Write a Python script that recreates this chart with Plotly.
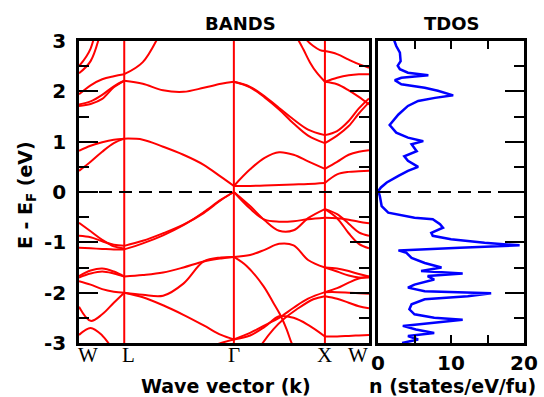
import plotly.graph_objects as go

# ---------------- data ----------------
k_sym = [0.0, 0.156, 0.534, 0.848, 1.0]
k_labels = ["W", "L", "Γ", "X", "W"]
e_ticks = [-3, -2, -1, 0, 1, 2, 3]
e_tick_labels = ["-3", "-2", "-1", "0", "1", "2", "3"]
n_ticks = [0, 10, 20]
n_tick_labels = ["0", "10", "20"]

# W -> L
k_WL = [0.0, 0.04, 0.08, 0.12, 0.156]
E_WL = [
    [0.42, 0.60, 0.80, 0.97, 1.06],
    [0.82, 0.92, 0.99, 1.04, 1.06],
    [1.71, 1.75, 1.85, 2.08, 2.21],
    [1.74, 1.80, 1.93, 2.10, 2.21],
    [1.94, 2.12, 2.24, 2.30, 2.34],
    [2.36, 2.60, 3.30, 4.50, 5.50],
    [2.50, 2.85, 3.90, 5.20, 6.00],
    [-0.61, -0.78, -0.95, -1.08, -1.12],
    [-0.87, -0.90, -0.98, -1.05, -1.07],
    [-1.11, -1.12, -1.13, -1.14, -1.14],
    [-1.67, -1.56, -1.52, -1.58, -1.68],
    [-1.70, -1.62, -1.58, -1.62, -1.68],
    [-1.77, -1.84, -1.93, -1.98, -2.00],
    [-2.28, -2.56, -2.43, -2.20, -2.00],
    [-2.84, -2.70, -2.85, -3.15, -3.40],
]

# L -> Gamma
k_LG = [0.156, 0.22, 0.29, 0.36, 0.43, 0.49, 0.534]
E_LG = [
    [1.06, 1.04, 0.90, 0.74, 0.54, 0.30, 0.12],
    [2.21, 2.15, 2.02, 1.99, 2.07, 2.15, 2.19],
    [2.34, 2.58, 3.25, 3.90, 4.50, 5.00, 5.40],
    [-1.07, -0.97, -0.82, -0.65, -0.42, -0.16, 0.00],
    [-1.14, -1.02, -0.86, -0.66, -0.40, -0.15, 0.00],
    [-1.68, -1.65, -1.60, -1.50, -1.38, -1.32, -1.29],
    [-2.00, -2.04, -2.06, -1.82, -1.38, -1.30, -1.29],
    [-2.00, -2.09, -2.25, -2.44, -2.65, -2.84, -2.93],
]

# Gamma -> X
k_GX = [0.534, 0.59, 0.64, 0.69, 0.74, 0.79, 0.848]
E_GX = [
    [0.12, 0.45, 0.68, 0.79, 0.74, 0.61, 0.46],
    [0.12, 0.12, 0.13, 0.14, 0.15, 0.16, 0.18],
    [2.19, 2.09, 1.90, 1.67, 1.44, 1.24, 1.13],
    [2.19, 2.08, 1.88, 1.64, 1.36, 1.12, 0.97],
    [0.00, -0.28, -0.56, -0.77, -0.76, -0.52, -0.34],
    [0.00, -0.33, -0.55, -0.59, -0.58, -0.54, -0.51],
    [-1.29, -1.25, -1.15, -1.03, -1.06, -1.35, -1.50],
    [-2.93, -2.85, -2.68, -2.47, -2.50, -2.64, -2.87],
    [-2.93, -2.80, -2.65, -2.50, -2.30, -2.12, -1.99],
]

# X -> W
k_XW = [0.848, 0.89, 0.93, 0.965, 1.0]
E_XW = [
    [0.46, 0.60, 0.74, 0.80, 0.83],
    [0.18, 0.35, 0.40, 0.41, 0.42],
    [1.13, 1.21, 1.41, 1.66, 1.86],
    [0.97, 1.12, 1.31, 1.56, 1.78],
    [2.19, 2.14, 2.02, 1.89, 1.74],
    [2.19, 2.27, 2.32, 2.34, 2.34],
    [2.80, 2.74, 2.63, 2.54, 2.47],
    [-0.34, -0.44, -0.63, -0.80, -0.87],
    [-0.34, -0.52, -0.82, -1.03, -1.12],
    [-0.51, -0.52, -0.55, -0.59, -0.62],
    [-1.50, -1.52, -1.57, -1.63, -1.68],
    [-1.50, -1.58, -1.66, -1.70, -1.70],
    [-1.99, -1.91, -1.80, -1.72, -1.68],
    [-1.99, -1.99, -2.00, -2.01, -2.02],
    [-2.07, -2.12, -2.20, -2.27, -2.31],
    [-2.87, -2.87, -2.86, -2.85, -2.84],
]

# short / steep pieces with their own k samples
extra_k = [
    [0.44, 0.49, 0.534],
    [0.74, 0.756, 0.774, 0.797, 0.82, 0.848],
    [0.77, 0.785, 0.808, 0.831, 0.848],
    [0.534, 0.578, 0.636, 0.67, 0.693, 0.716, 0.733, 0.75],
    [0.60, 0.631, 0.67, 0.705, 0.751, 0.808, 0.848],
]
extra_E = [
    [-3.10, -3.00, -2.93],
    [3.15, 3.02, 2.83, 2.57, 2.37, 2.19],
    [3.15, 3.02, 2.90, 2.82, 2.80],
    [-1.29, -1.47, -1.87, -2.20, -2.43, -2.73, -3.00, -3.20],
    [-3.30, -3.02, -2.73, -2.53, -2.33, -2.13, -2.07],
]

# total DOS
dos_E = [3.02, 2.90, 2.77, 2.60, 2.51, 2.44, 2.37, 2.32, 2.27, 2.22, 2.14, 2.07, 2.01,
         1.92, 1.87, 1.81, 1.71, 1.54, 1.33, 1.18, 1.08, 1.01, 0.95, 0.81, 0.71, 0.62,
         0.50, 0.42, 0.32, 0.19, 0.09, 0.02, -0.08, -0.28, -0.41, -0.51, -0.54, -0.64,
         -0.71, -0.81, -0.87, -0.94, -1.01, -1.06, -1.11, -1.14, -1.16, -1.21, -1.31,
         -1.41, -1.47, -1.50, -1.57, -1.62, -1.67, -1.74, -1.84, -1.90, -1.97, -2.01,
         -2.07, -2.13, -2.23, -2.33, -2.43, -2.50, -2.54, -2.60, -2.66, -2.73, -2.80,
         -2.86, -2.93, -3.00]
dos_n = [2.2, 2.5, 3.0, 3.1, 2.7, 3.0, 4.1, 6.9, 3.2, 2.3, 3.2, 6.4, 8.2,
         10.3, 7.8, 5.5, 4.1, 2.8, 1.6, 2.5, 4.1, 6.2, 4.6, 5.3, 3.6, 4.1,
         5.5, 4.1, 2.8, 1.2, 0.4, 0.05, 0.25, 0.5, 1.4, 5.0, 7.5, 8.5,
         8.9, 7.3, 7.5, 10.0, 14.6, 19.4, 11.2, 5.0, 2.8, 3.9, 4.6,
         6.4, 8.2, 8.7, 5.9, 11.6, 6.8, 7.7, 5.0, 4.1, 6.4, 15.5,
         12.3, 6.4, 4.6, 4.3, 5.0, 7.7, 11.6, 7.7, 3.4, 5.2, 7.7,
         4.1, 5.5, 3.3]

# ---------------- figure ----------------
RED = "#ff0000"
fig = go.Figure()

def add_band(k, e):
    fig.add_trace(go.Scatter(x=k, y=e, mode="lines", xaxis="x", yaxis="y",
                             line=dict(color=RED, width=2, shape="spline"),
                             hoverinfo="skip", showlegend=False))

for kk, rows in [(k_WL, E_WL), (k_LG, E_LG), (k_GX, E_GX), (k_XW, E_XW)]:
    for row in rows:
        add_band(kk, row)
for kk, ee in zip(extra_k, extra_E):
    add_band(kk, ee)

fig.add_trace(go.Scatter(x=dos_n, y=dos_E, mode="lines", xaxis="x2", yaxis="y2",
                         line=dict(color="#0000ff", width=2.5),
                         hoverinfo="skip", showlegend=False))

shapes = []
for kv in k_sym[1:4]:
    shapes.append(dict(type="line", xref="x", yref="y domain", x0=kv, x1=kv, y0=0, y1=1,
                       line=dict(color=RED, width=2)))
for xr, yr in [("x domain", "y"), ("x2 domain", "y2")]:
    shapes.append(dict(type="line", xref=xr, yref=yr, x0=0, x1=1, y0=0, y1=0,
                       line=dict(color="black", width=2, dash="13px,7px")))

W, H = 544, 397
xd1 = [79 / W, 369 / W]
xd2 = [378 / W, 524 / W]
yd = [1 - 343 / H, 1 - 41 / H]

SANS = "DejaVu Sans"
tickfont = dict(family=SANS, size=20, color="black", weight="bold")
minor_y = dict(dtick=0.5, ticks="inside", ticklen=10, tickwidth=2, tickcolor="black")

fig.update_layout(
    width=W, height=H, margin=dict(l=0, r=0, t=0, b=0, autoexpand=False),
    plot_bgcolor="white", paper_bgcolor="white", showlegend=False,
    font=dict(family=SANS, color="black"),
    xaxis=dict(domain=xd1, anchor="y", range=[0, 1], showticklabels=False, ticks="",
               showline=True, linewidth=2.5, linecolor="black", mirror=True,
               showgrid=False, zeroline=False, automargin=False),
    yaxis=dict(domain=yd, anchor="x", range=[-3, 3], tickvals=e_ticks,
               ticktext=e_tick_labels, ticks="inside", ticklen=19,
               tickwidth=2, tickcolor="black", mirror="ticks", showline=True,
               linewidth=2.5, linecolor="black", minor=minor_y, tickfont=tickfont,
               showgrid=False, zeroline=False, ticklabelstandoff=6, automargin=False),
    xaxis2=dict(domain=xd2, anchor="y2", range=[0, 20], tickvals=n_ticks,
                ticktext=n_tick_labels,
                ticks="inside", ticklen=8, tickwidth=2, tickcolor="black", mirror="ticks",
                showline=True, linewidth=2.5, linecolor="black",
                minor=dict(dtick=5, ticks="inside", ticklen=8, tickwidth=2, tickcolor="black"),
                tickfont=tickfont, showgrid=False, zeroline=False, automargin=False),
    yaxis2=dict(domain=yd, anchor="x2", range=[-3, 3], tickvals=e_ticks, side="right",
                ticks="inside", ticklen=19, tickwidth=2, tickcolor="black",
                showticklabels=False, showline=True, linewidth=2.5, linecolor="black",
                mirror=True, minor=minor_y, showgrid=False, zeroline=False,
                automargin=False),
    shapes=shapes,
)

bold = dict(family=SANS, color="black", weight="bold")
common = dict(xref="paper", yref="paper", showarrow=False, xanchor="center", yanchor="middle")
annotations = [
    dict(text="BANDS", x=240 / W, y=1 - 23 / H, font=dict(size=18, **bold), **common),
    dict(text="TDOS", x=452 / W, y=1 - 23 / H, font=dict(size=18, **bold), **common),
    dict(text="Wave vector (k)", x=226 / W, y=1 - 386 / H, font=dict(size=19, **bold), **common),
    dict(text="n (states/eV/fu)", x=452 / W, y=1 - 386 / H, font=dict(size=19, **bold), **common),
    dict(text="E - E<sub>F</sub> (eV)", x=26 / W, y=1 - 195 / H, textangle=-90,
         font=dict(size=19, **bold), **common),
]
shifts = [9, 4, 0, 0, -11]
for kv, lab, sh in zip(k_sym, k_labels, shifts):
    annotations.append(dict(text=lab, x=kv, y=1 - 355 / H, xref="x", yref="paper",
                            xshift=sh, showarrow=False, xanchor="center", yanchor="middle",
                            font=dict(family="Liberation Serif", size=21, color="black")))
fig.update_layout(annotations=annotations)

fig.write_html("out.html", config={"displayModeBar": False})

# remove the default page margin so the figure starts at the window's corner
with open("out.html", "r", encoding="utf-8") as f:
    html = f.read()
html = html.replace("<head>", "<head><style>html,body{margin:0;padding:0;overflow:hidden;}</style>", 1)
with open("out.html", "w", encoding="utf-8") as f:
    f.write(html)
